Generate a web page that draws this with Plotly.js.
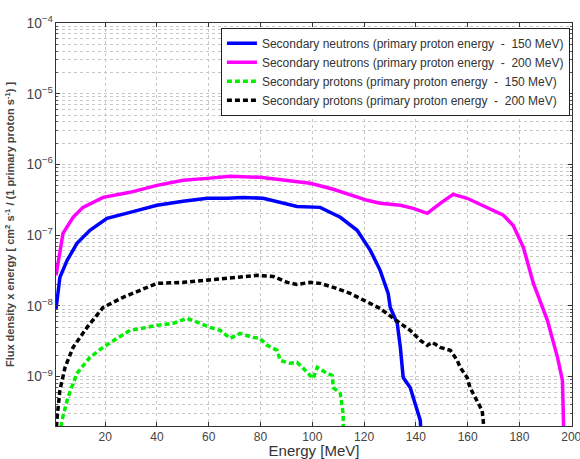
<!DOCTYPE html>
<html>
<head>
<meta charset="utf-8">
<script src="https://cdn.plot.ly/plotly-3.0.1.min.js"></script>
<style>html,body{margin:0;padding:0;background:#fff;}#chart{width:580px;height:459px;}</style>
</head>
<body>
<div id="chart"></div>
<script>
// Secondary neutrons, primary proton energy 200 MeV
const n200E = [1, 2.5, 3.7, 7.6, 11.4, 19.2, 29.6, 40, 50.1, 59.4, 68.3, 79.8, 90.3, 99.2, 108.1, 121.2, 126.2, 134, 139, 144.4, 149.4, 154.4, 159.8, 167.6, 173.8, 177.6, 181.5, 185.4, 190.8, 194.7, 196.6, 197, 197.1];
const n200F = [2.7e-8, 6.1e-8, 1.06e-7, 1.79e-7, 2.47e-7, 3.42e-7, 4.03e-7, 5.06e-7, 5.96e-7, 6.35e-7, 6.79e-7, 6.57e-7, 5.96e-7, 5.41e-7, 4.45e-7, 3.11e-7, 2.82e-7, 2.64e-7, 2.39e-7, 2.03e-7, 2.82e-7, 3.77e-7, 3.32e-7, 2.47e-7, 1.91e-7, 1.37e-7, 6.72e-8, 2.08e-8, 6.24e-9, 1.87e-9, 8.9e-10, 2.4e-10, 1.5e-10];
// Secondary neutrons, primary proton energy 150 MeV
const n150E = [1, 2.5, 5.3, 9.1, 14.1, 20.7, 29.6, 40, 50.1, 59.4, 67.1, 73.3, 81, 87.6, 94.1, 103, 110.8, 117.3, 122.4, 126.2, 127.4, 129.3, 130.1, 132.8, 134, 135.1, 137.8, 139.8, 141.7, 142];
const n150F = [9e-9, 2.53e-8, 4.4e-8, 7.65e-8, 1.17e-7, 1.73e-7, 2.1e-7, 2.64e-7, 3.01e-7, 3.32e-7, 3.32e-7, 3.42e-7, 3.32e-7, 2.91e-7, 2.55e-7, 2.47e-7, 1.79e-7, 1.17e-7, 6.09e-8, 3.18e-8, 2.3e-8, 1.5e-8, 9.5e-9, 5.65e-9, 2.59e-9, 9.7e-10, 7.0e-10, 4.2e-10, 2.4e-10, 1.5e-10];
// Secondary protons, primary proton energy 150 MeV
const p150E = [2.5, 3.3, 5.6, 9.1, 14.1, 19.2, 24.6, 29.6, 36.2, 40, 46.2, 51.6, 55.5, 60.5, 64.4, 68.3, 72.1, 77.1, 79.8, 82.6, 86.4, 87.6, 91.4, 94.1, 96.5, 98, 100.3, 101.9, 105.7, 107.7, 108.1, 110.8, 111.9, 112];
const p150F = [1.5e-10, 2.4e-10, 5.07e-10, 1.11e-9, 1.87e-9, 2.59e-9, 3.47e-9, 4.5e-9, 4.96e-9, 5.3e-9, 5.65e-9, 6.66e-9, 5.9e-9, 4.96e-9, 4.5e-9, 3.47e-9, 4.08e-9, 3.58e-9, 3.47e-9, 2.76e-9, 2.35e-9, 1.69e-9, 1.54e-9, 1.59e-9, 1.31e-9, 1.15e-9, 9.4e-10, 1.35e-9, 1.11e-9, 1.04e-9, 7.0e-10, 5.8e-10, 3.0e-10, 1.5e-10];
// Secondary protons, primary proton energy 200 MeV
const p200E = [1, 1.4, 2.5, 4.5, 7.6, 13, 19.2, 26.9, 33.5, 40, 50.1, 59.4, 69.4, 78.7, 84.9, 90.3, 94.1, 99.2, 103, 108.1, 114.6, 121.2, 126.2, 131.3, 137.8, 141.7, 144.4, 146.3, 149.4, 153.3, 156, 157.1, 159.8, 160.9, 163.7, 165.6, 166, 166.4];
const p200F = [1.5e-10, 2.56e-10, 6.37e-10, 1.35e-9, 2.59e-9, 4.96e-9, 9.5e-9, 1.32e-8, 1.66e-8, 2.08e-8, 2.15e-8, 2.3e-8, 2.53e-8, 2.7e-8, 2.61e-8, 2.15e-8, 2.01e-8, 2.15e-8, 2.08e-8, 1.83e-8, 1.5e-8, 1.12e-8, 9.2e-9, 6.66e-9, 4.5e-9, 3.25e-9, 2.76e-9, 3.05e-9, 2.59e-9, 2.35e-9, 1.69e-9, 1.35e-9, 9.7e-10, 7.0e-10, 4.6e-10, 3.3e-10, 2.4e-10, 1.5e-10];

const names = [
  'Secondary neutrons (primary proton energy  -  150 MeV)',
  'Secondary neutrons (primary proton energy  -  200 MeV)',
  'Secondary protons (primary proton energy  -  150 MeV)',
  'Secondary protons (primary proton energy  -  200 MeV)'
];

const traces = [
  {x: n150E, y: n150F, name: names[0], mode: 'lines', line: {color: '#0000ff', width: 3.5}},
  {x: n200E, y: n200F, name: names[1], mode: 'lines', line: {color: '#ff00ff', width: 3.5}},
  {x: p150E, y: p150F, name: names[2], mode: 'lines', line: {color: '#00ee00', width: 3.5, dash: '5px,3px'}},
  {x: p200E, y: p200F, name: names[3], mode: 'lines', line: {color: '#000000', width: 3.5, dash: '5px,3px'}}
];

const gridCol = '#c8c8c8';
const layout = {
  width: 580, height: 459,
  margin: {l: 56, r: 8, t: 23, b: 33},
  paper_bgcolor: '#fff', plot_bgcolor: '#fff',
  font: {family: 'Liberation Sans, Arial, sans-serif', size: 11, color: '#444'},
  showlegend: true,
  legend: {
    x: 0.996, y: 0.988, xanchor: 'right', yanchor: 'top',
    bgcolor: '#fff', bordercolor: '#222', borderwidth: 1,
    font: {size: 12, color: '#333'}, tracegroupgap: 0, itemwidth: 30
  },
  xaxis: {
    range: [1, 200.3], tickvals: [20, 40, 60, 80, 100, 120, 140, 160, 180, 200],
    ticklabeloverflow: 'allow',
    showgrid: true, gridcolor: gridCol, griddash: 'dot', gridwidth: 1,
    zeroline: false, showline: true, linecolor: '#333', linewidth: 1, mirror: 'ticks',
    ticks: 'inside', ticklen: 4, tickcolor: '#333',
    tickfont: {size: 12, color: '#444'},
    automargin: false,
    title: {text: 'Energy [MeV]', font: {size: 15, color: '#333'}, standoff: 9}
  },
  yaxis: {
    type: 'log', range: [Math.log10(2e-10), -4], dtick: 1, exponentformat: 'power',
    showgrid: true, gridcolor: gridCol, griddash: 'dot', gridwidth: 1,
    zeroline: false, showline: true, linecolor: '#333', linewidth: 1, mirror: 'ticks',
    ticks: 'inside', ticklen: 4, tickcolor: '#333',
    tickfont: {size: 11, color: '#444'},
    automargin: false,
    minor: {dtick: 'D1', showgrid: true, gridcolor: gridCol, griddash: 'dot', ticks: 'inside', ticklen: 2, tickcolor: '#555'},
    title: {text: '<b>Flux density x energy [ cm<sup>2</sup> s<sup>-1</sup> / (1 primary proton s<sup>-1</sup>) ]</b>', font: {size: 11, color: '#444'}, standoff: 9}
  }
};

Plotly.newPlot('chart', traces, layout, {displayModeBar: false, staticPlot: true});
</script>
</body>
</html>
